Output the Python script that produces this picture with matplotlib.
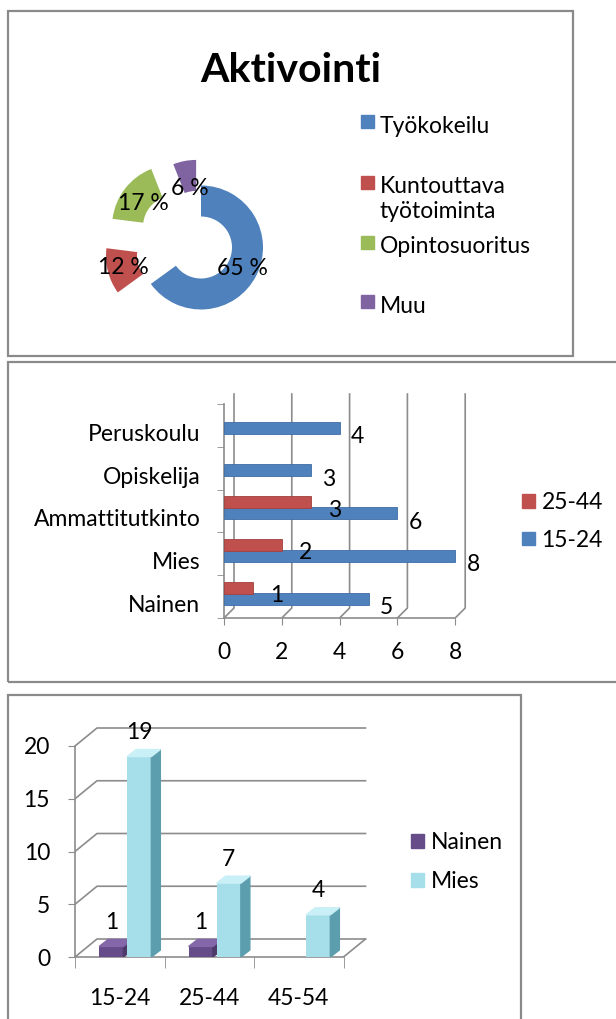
import numpy as np
import matplotlib
matplotlib.use("Agg")
import matplotlib.pyplot as plt
import matplotlib.transforms as mtransforms
from matplotlib.patches import Rectangle, Polygon, Patch

plt.rcParams["font.family"] = ["Lato", "DejaVu Sans"]

# --- data ---
act_labels = ["Työkokeilu", "Kuntouttava\ntyötoiminta", "Opintosuoritus", "Muu"]
act_pct = [65, 12, 17, 6]
act_colors = ["#4F81BD", "#C0504D", "#9BBB59", "#8064A2"]

edu_cats = ["Nainen", "Mies", "Ammattitutkinto", "Opiskelija", "Peruskoulu"]
edu_15_24 = [5, 8, 6, 3, 4]
edu_25_44 = [1, 2, 3, np.nan, np.nan]
edu_xticks = [0, 2, 4, 6, 8]

age_cats = ["15-24", "25-44", "45-54"]
age_nainen = [1, 1, np.nan]
age_mies = [19, 7, 4]
age_yticks = [0, 5, 10, 15, 20]

W, H = 616, 1019
FS = 16.5
GRID = "#8c8c8c"
fig = plt.figure(figsize=(W / 100, H / 100), dpi=100)


def px_axes(l, t, r, b):
    return fig.add_axes([l / W, 1 - b / H, (r - l) / W, (b - t) / H])


def frame(l, t, r, b):
    fig.add_artist(Rectangle((l / W, 1 - b / H), (r - l) / W, (b - t) / H,
                             transform=fig.transFigure, fill=False, ec="#8a8a8a", lw=1.6))


# ---------- panel 1: donut ----------
frame(8, 11, 573, 356)
fig.text(291 / W, 1 - 70 / H, "Aktivointi", ha="center", va="center",
         fontsize=29.5, fontweight="bold")
ax1 = px_axes(77, 123.5, 325, 371.5)
wedges, _ = ax1.pie(act_pct, colors=act_colors, startangle=90, counterclock=False,
                    radius=1, explode=[0, .55, .55, .42],
                    wedgeprops=dict(width=0.5, linewidth=0))
for w, p, r in zip(wedges, act_pct, [0.75, 0.75, 0.62, 0.55]):
    th = np.deg2rad((w.theta1 + w.theta2) / 2)
    cx, cy = w.center
    ax1.text(cx + r * np.cos(th), cy + r * np.sin(th), f"{p} %",
             ha="center", va="center", fontsize=FS)
ax1.set_xlim(-2, 2)
ax1.set_ylim(-2, 2)
ax1.axis("off")

for i, (lab, c) in enumerate(zip(act_labels, act_colors)):
    yc = 122 + 60 * i
    fig.add_artist(Rectangle((361 / W, 1 - (yc + 6.5) / H), 13 / W, 13 / H,
                             transform=fig.transFigure, color=c))
    fig.text(380 / W, 1 - (yc - 6) / H, lab, va="top", fontsize=FS, linespacing=1.25)

# ---------- panel 2: horizontal bars ----------
frame(8, 362, 700, 682)
ux2, uy2 = 28.9, 42.8
ax2 = px_axes(224, 618 - 5.25 * uy2, 224 + 8.4 * ux2, 618)
ax2.set_xlim(0, 8.4)
ax2.set_ylim(-0.5, 4.75)
y = np.arange(len(edu_cats))
dxg, dyg = 10 / ux2, 10 / uy2
for v in edu_xticks:
    ax2.plot([v, v + dxg, v + dxg], [-0.5, -0.5 + dyg, 4.5 + dyg], color=GRID, lw=1.2, zorder=1)
ax2.barh(y - 0.05, edu_15_24, height=0.28, color="#4F81BD", ec="#3E6DA5", lw=0.6, zorder=3)
ax2.barh(y + 0.21, edu_25_44, height=0.28, color="#C0504D", ec="#A3403D", lw=0.6, zorder=3)
for yi, v in zip(y, edu_15_24):
    ax2.annotate(str(v), (v, yi - 0.05), xytext=(18, -9), textcoords="offset pixels",
                 ha="center", va="center", fontsize=FS)
for yi, v in zip(y, edu_25_44):
    if not np.isnan(v):
        ax2.annotate(str(int(v)), (v, yi + 0.21), xytext=(24, -8), textcoords="offset pixels",
                     ha="center", va="center", fontsize=FS)
for s in ["top", "right"]:
    ax2.spines[s].set_visible(False)
ax2.spines["left"].set_bounds(-0.5, 4.5)
ax2.spines["bottom"].set_bounds(0, 8)
for s in ["left", "bottom"]:
    ax2.spines[s].set_color(GRID)
    ax2.spines[s].set_linewidth(1.2)
ax2.set_yticks(y, edu_cats)
ax2.set_yticks(np.arange(-0.5, 5, 1), minor=True)
ax2.tick_params(axis="y", which="major", length=0, pad=17, labelsize=FS)
ax2.tick_params(axis="y", which="minor", length=5, color=GRID)
ax2.set_xticks(edu_xticks)
ax2.tick_params(axis="x", length=5, pad=12, labelsize=FS, color=GRID)
off = mtransforms.ScaledTranslation(0, -7 / 100, fig.dpi_scale_trans)
for lab in ax2.get_yticklabels():
    lab.set_transform(lab.get_transform() + off)
ax2.legend([Patch(color="#C0504D"), Patch(color="#4F81BD")], ["25-44", "15-24"],
           loc="center left", bbox_to_anchor=(522 / W, 1 - 521.5 / H),
           bbox_transform=fig.transFigure, frameon=False, borderpad=0, borderaxespad=0,
           handlelength=0.55, handleheight=0.55, handletextpad=0.3,
           labelspacing=0.7, fontsize=FS)

# ---------- panel 3: 3D columns ----------
frame(8, 695, 521, 1100)
ux, uy = 89.5, 10.55
ax3 = px_axes(75, 957 - 22 * uy, 75 + 3.35 * ux, 957)
ax3.set_xlim(-0.5, 2.85)
ax3.set_ylim(0, 22)
gx, gy = 22 / ux, 18 / uy
for v in age_yticks:
    ax3.plot([-0.5, -0.5 + gx, 2.5 + gx], [v, v + gy, v + gy], color=GRID, lw=1.2, zorder=1)
ax3.plot([2.5, 2.5 + gx], [0, gy], color=GRID, lw=1.2, zorder=1)


def bar3d(ax, x, h, w, front, side, top):
    dx, dy = 9 / ux, 7 / uy
    ax.bar(x, h, w, color=front, zorder=3)
    ax.add_patch(Polygon([(x + w / 2, 0), (x + w / 2 + dx, dy), (x + w / 2 + dx, h + dy),
                          (x + w / 2, h)], color=side, zorder=3))
    ax.add_patch(Polygon([(x - w / 2, h), (x - w / 2 + dx, h + dy), (x + w / 2 + dx, h + dy),
                          (x + w / 2, h)], color=top, zorder=3))


xc = np.arange(len(age_cats))
bw = 0.27
for x, v in zip(xc, age_nainen):
    if not np.isnan(v):
        bar3d(ax3, x - 0.095, v, bw, "#664C88", "#4E3A6A", "#8467A8")
        ax3.annotate(str(int(v)), (x - 0.095, v), xytext=(0, 24), textcoords="offset pixels",
                     ha="center", va="center", fontsize=FS)
for x, v in zip(xc, age_mies):
    bar3d(ax3, x + 0.218, v, bw, "#A6DEEA", "#5C9EAD", "#C9EFF7")
    ax3.annotate(str(v), (x + 0.218, v), xytext=(0, 24), textcoords="offset pixels",
                 ha="center", va="center", fontsize=FS)
for s in ["top", "right"]:
    ax3.spines[s].set_visible(False)
ax3.spines["left"].set_bounds(0, 20)
ax3.spines["bottom"].set_bounds(-0.5, 2.5)
for s in ["left", "bottom"]:
    ax3.spines[s].set_color(GRID)
    ax3.spines[s].set_linewidth(1.2)
ax3.set_yticks(age_yticks)
ax3.tick_params(axis="y", length=5, pad=13, labelsize=FS, color=GRID)
ax3.set_xticks(xc, age_cats)
ax3.set_xticks(np.arange(-0.5, 3, 1), minor=True)
ax3.tick_params(axis="x", which="major", length=0, pad=22, labelsize=FS)
ax3.tick_params(axis="x", which="minor", length=8, color=GRID)
ax3.legend([Patch(color="#664C88"), Patch(color="#A6DEEA")], ["Nainen", "Mies"],
           loc="center left", bbox_to_anchor=(411 / W, 1 - 862 / H),
           bbox_transform=fig.transFigure, frameon=False, borderpad=0, borderaxespad=0,
           handlelength=0.55, handleheight=0.55, handletextpad=0.3,
           labelspacing=0.8, fontsize=FS)

fig.savefig("out.png", dpi=100)
